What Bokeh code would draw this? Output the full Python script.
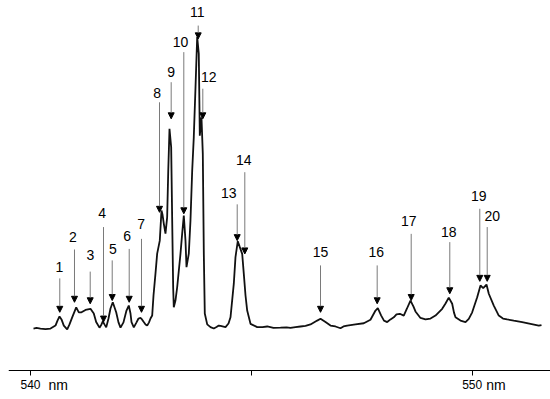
from bokeh.plotting import figure
from bokeh.models import ColumnDataSource, Range1d, FixedTicker, Arrow, NormalHead
from bokeh.core.properties import value
from bokeh.embed import file_html
from bokeh.resources import INLINE

# ---- spectrum (wavelength in nm, intensity in arbitrary units) ----
wavelength = [
    540.068, 540.136, 540.226, 540.340, 540.453, 540.566, 540.611, 540.657, 540.702, 540.754,
    540.831, 540.883, 540.944, 541.035, 541.094, 541.155, 541.245, 541.358, 541.433, 541.487,
    541.562, 541.607, 541.637, 541.675, 541.714, 541.766, 541.811, 541.863, 541.940, 541.992,
    542.038, 542.105, 542.173, 542.225, 542.264, 542.287, 542.339, 542.400, 542.445, 542.490,
    542.524, 542.565, 542.604, 542.642, 542.683, 542.717, 542.755, 542.785, 542.830, 542.868,
    542.927, 542.966, 542.988, 543.018, 543.056, 543.094, 543.119, 543.147, 543.185, 543.208,
    543.230, 543.244, 543.282, 543.321, 543.396, 543.434, 543.471, 543.509, 543.532, 543.584,
    543.622, 543.661, 543.697, 543.736, 543.774, 543.810, 543.833, 543.871, 543.901, 543.924,
    543.946, 544.001, 544.075, 544.150, 544.211, 544.263, 544.302, 544.415, 544.483, 544.528,
    544.603, 544.641, 544.693, 544.739, 544.793, 544.829, 544.868, 544.906, 544.981, 545.132,
    545.252, 545.359, 545.501, 545.660, 545.796, 545.886, 545.999, 546.113, 546.226, 546.339,
    546.491, 546.566, 546.679, 546.792, 546.905, 547.018, 547.086, 547.170, 547.358, 547.546,
    547.697, 547.811, 547.863, 547.940, 548.003, 548.076, 548.150, 548.225, 548.286, 548.361,
    548.451, 548.524, 548.603, 548.669, 548.716, 548.829, 548.943, 549.056, 549.169, 549.321,
    549.396, 549.470, 549.547, 549.588, 549.622, 549.735, 549.849, 549.923, 550.000, 550.113,
    550.188, 550.249, 550.324, 550.376, 550.489, 550.602, 550.697, 550.792, 550.942, 551.132,
    551.320, 551.508, 551.569,
]
intensity = [
    1.0, 1.2, 1.0, 0.8, 1.0, 2.0, 3.7, 5.1, 4.1, 2.0,
    0.7, 2.4, 4.8, 8.2, 6.5, 6.5, 7.3, 7.7, 6.1, 3.2,
    1.3, 2.4, 3.4, 2.4, 1.4, 4.4, 7.8, 9.9, 6.5, 3.1,
    1.3, 3.1, 7.1, 8.8, 6.1, 3.2, 1.4, 3.1, 4.4, 4.6,
    4.1, 3.2, 2.4, 2.0, 3.1, 4.4, 5.4, 12.2, 19.7, 26.4,
    30.8, 41.0, 39.7, 36.6, 33.2, 38.7, 54.6, 68.7, 62.5, 37.6,
    15.0, 8.2, 10.5, 15.0, 26.4, 33.2, 39.3, 30.8, 21.8, 26.4,
    37.6, 54.6, 65.9, 82.8, 99.8, 94.2, 66.4, 72.6, 60.3, 26.4,
    6.1, 2.4, 1.5, 1.0, 1.5, 2.0, 1.9, 1.5, 2.7, 4.8,
    16.2, 25.2, 30.6, 28.6, 26.3, 19.6, 12.2, 7.1, 2.6, 1.5,
    1.5, 1.7, 1.2, 1.3, 1.4, 1.2, 1.5, 1.7, 1.9, 2.4,
    3.7, 4.3, 3.2, 2.0, 1.7, 1.1, 1.7, 2.0, 2.4, 2.8,
    4.0, 7.1, 7.9, 5.4, 3.7, 3.2, 4.1, 4.8, 5.8, 6.0,
    5.4, 7.8, 10.5, 8.5, 6.8, 4.6, 4.1, 4.4, 5.4, 7.7,
    9.5, 11.5, 9.4, 6.4, 4.8, 3.7, 3.2, 4.3, 6.5, 11.6,
    15.6, 14.7, 15.9, 12.8, 8.8, 5.4, 4.4, 4.1, 3.7, 3.2,
    2.6, 2.0, 2.2,
]

# ---- numbered line markers ----
peak_labels = [str(i) for i in range(1, 21)]
peak_wavelength = [540.663, 540.996, 541.352, 541.653, 541.850, 542.235, 542.513, 542.921,
                   543.185, 543.471, 543.797, 543.901, 544.680, 544.852, 546.566, 547.849,
                   548.619, 549.493, 550.172, 550.340]
arrow_tip = [6.5, 9.9, 9.4, 3.2, 10.5, 9.9, 6.5, 40.4, 72.1, 39.9,
             99.2, 72.1, 30.8, 26.3, 6.5, 9.4, 10.5, 12.8, 17.0, 17.0]
arrow_tail = [18.0, 27.8, 20.3, 35.4, 24.1, 28.0, 31.4, 77.7, 84.5, 94.7,
              103.7, 82.3, 43.1, 54.0, 22.4, 22.4, 33.1, 30.3, 41.6, 35.4]
label_wavelength = [540.657, 540.958, 541.358, 541.623, 541.863, 542.189, 542.506, 542.868,
                    543.185, 543.396, 543.774, 544.037, 544.490, 544.829, 546.566, 547.826,
                    548.565, 549.470, 550.150, 550.453]
label_intensity = [21.8, 32.0, 25.8, 40.0, 28.0, 32.5, 36.3, 80.7,
                   87.9, 98.1, 108.3, 86.2, 46.8, 58.3, 26.9, 26.9,
                   37.6, 33.7, 46.1, 39.3]

# ---- axis ----
tick_values = [540, 545, 550]
tick_labels = ["540", "", "550"]
unit_at = [540, 550]
unit_text = ["nm", "nm"]

FONT = "Liberation Sans"
AXIS_Y = -13.2      # intensity level where the wavelength axis is drawn
UNIT_Y = -18.0      # baseline level of the unit labels

p = figure(width=550, height=399,
           x_range=Range1d(539.502, 551.773), y_range=Range1d(-23.05, 112.2),
           output_backend="svg", toolbar_location=None,
           min_border_left=8, min_border_right=0, min_border_top=0,
           min_border_bottom=0)
p.outline_line_color = None
p.background_fill_color = "white"
p.border_fill_color = "white"
p.xgrid.visible = False
p.ygrid.visible = False
p.yaxis.visible = False

ax = p.xaxis[0]
ax.fixed_location = AXIS_Y
ax.ticker = FixedTicker(ticks=tick_values)
ax.major_label_overrides = {v: t for v, t in zip(tick_values, tick_labels)}
ax.minor_tick_line_color = None
ax.major_tick_in = 0
ax.major_tick_out = 5
ax.major_label_standoff = 5
ax.axis_line_color = "black"
ax.axis_line_width = 1
ax.major_tick_line_color = "black"
ax.major_label_text_font = FONT
ax.major_label_text_font_size = "12px"
ax.major_label_text_color = "black"

# unit labels to the right of the labelled ticks
unit_src = ColumnDataSource(dict(x=unit_at, t=unit_text, dx=[18, 14]))
p.text(x="x", y=UNIT_Y, text="t", x_offset="dx", source=unit_src,
       text_align="left", text_baseline="alphabetic", text_font=value(FONT),
       text_font_size="14px", text_color="black")

# spectrum
p.line(wavelength, intensity, line_color="#111111", line_width=1.8)

# arrows
arrow_src = ColumnDataSource(dict(x=peak_wavelength, tip=arrow_tip, tail=arrow_tail))
p.add_layout(Arrow(end=NormalHead(size=6, fill_color="black", line_color="black", line_width=1),
                   x_start="x", y_start="tail", x_end="x", y_end="tip",
                   source=arrow_src, line_color="#7a7a7a", line_width=1))

# numbers
lab_src = ColumnDataSource(dict(x=label_wavelength, y=label_intensity, t=peak_labels))
p.text(x="x", y="y", text="t", source=lab_src, text_align="center",
       text_baseline="middle", text_font=value(FONT), text_font_size="14px",
       text_color="black")

open("out.html", "w").write(file_html(p, INLINE))
